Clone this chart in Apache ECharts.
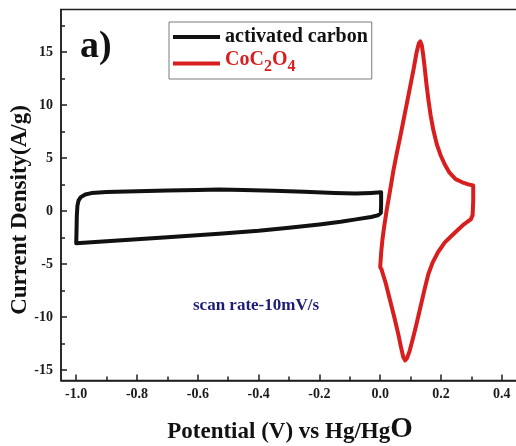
<!DOCTYPE html>
<html>
<head>
<meta charset="utf-8">
<script src="https://cdn.jsdelivr.net/npm/echarts@6/dist/echarts.min.js"></script>
<style>
  html, body { margin: 0; padding: 0; background: #ffffff; }
  #chart { width: 516px; height: 446px; }
</style>
</head>
<body>
<div id="chart"></div>
<script>
// Cyclic voltammograms at 10 mV/s: potential (V vs Hg/HgO) and current density (A/g)
const acPotential = [-1.000, -0.999, -0.998, -0.996, -0.992, -0.985, -0.970, -0.950, -0.900, -0.800,
  -0.700, -0.600, -0.530, -0.450, -0.350, -0.250, -0.150, -0.080, -0.030, 0.003,
  0.003, 0.002, -0.008, -0.030, -0.080, -0.130, -0.200, -0.300, -0.400, -0.530,
  -0.700, -0.850, -1.000];
const acCurrent = [-3.05, -2.00, -0.50, 0.50, 1.00, 1.30, 1.55, 1.68, 1.78, 1.86,
  1.92, 1.97, 2.02, 1.98, 1.90, 1.80, 1.68, 1.64, 1.70, 1.76,
  0.60, -0.20, -0.42, -0.58, -0.80, -1.02, -1.28, -1.60, -1.88, -2.15,
  -2.48, -2.77, -3.05];

const cocPotential = [0.000, 0.003, 0.007, 0.013, 0.022, 0.033, 0.044, 0.055, 0.066, 0.077,
  0.088, 0.099, 0.110, 0.120, 0.127, 0.132, 0.137, 0.141, 0.146, 0.152,
  0.159, 0.166, 0.175, 0.186, 0.198, 0.212, 0.228, 0.248, 0.270, 0.290,
  0.306, 0.306, 0.304, 0.298, 0.288, 0.272, 0.255, 0.235, 0.212, 0.190,
  0.172, 0.158, 0.145, 0.133, 0.120, 0.108, 0.097, 0.088, 0.082, 0.076,
  0.068, 0.060, 0.047, 0.033, 0.018, 0.004, 0.000];
const cocCurrent = [-5.3, -4.0, -2.8, -1.5, 0.2, 2.0, 3.9, 5.5, 7.0, 8.6,
  10.2, 11.8, 13.4, 15.0, 15.8, 16.0, 15.6, 14.8, 13.6, 12.0,
  10.4, 9.0, 7.6, 6.3, 5.3, 4.4, 3.6, 3.0, 2.7, 2.5,
  2.4, 1.0, -0.4, -0.8, -1.0, -1.35, -1.8, -2.35, -3.0, -3.9,
  -4.9, -6.0, -7.5, -9.0, -10.6, -12.0, -13.2, -13.9, -14.1, -13.8,
  -12.8, -11.7, -10.1, -8.5, -6.8, -5.5, -5.3];

const xMajorTicks = [-1.0, -0.8, -0.6, -0.4, -0.2, 0.0, 0.2, 0.4];
const xMinorTicks = [-0.9, -0.7, -0.5, -0.3, -0.1, 0.1, 0.3];
const yMajorTicks = [-15, -10, -5, 0, 5, 10, 15];
const yMinorTicks = [-12.5, -7.5, -2.5, 2.5, 7.5, 12.5, 17.5];

const seriesNames = ['activated carbon', 'CoC2O4'];
const seriesColors = ['#111111', '#d81e1e'];

const SERIF = '"Liberation Serif", "Times New Roman", serif';
const AXIS_COLOR = '#1e1e1e';

const pairs = (xs, ys) => xs.map((x, i) => [x, ys[i]]);

const tickLabelStyle = {
  fontFamily: SERIF, fontWeight: 'bold', fontSize: 14, color: '#1a1a1a'
};

function valueAxis(min, max, extra) {
  return Object.assign({
    type: 'value', min: min, max: max,
    splitLine: { show: false },
    axisLine: { show: false, onZero: false },
    axisTick: { show: false },
    axisLabel: { show: false }
  }, extra);
}

const chart = echarts.init(document.getElementById('chart'), null, { renderer: 'canvas' });

chart.setOption({
  animation: false,
  backgroundColor: '#ffffff',
  grid: {
    left: 61, top: 9.5, width: 456, height: 371,
    show: true, borderColor: AXIS_COLOR, borderWidth: 1.5,
    outerBoundsMode: 'none'
  },
  xAxis: [
    valueAxis(-1.05, 0.45, {
      position: 'bottom',
      axisLine: { show: true, onZero: false, lineStyle: { color: AXIS_COLOR, width: 1.5 } },
      axisTick: { show: true, inside: true, length: 6, customValues: xMajorTicks,
        lineStyle: { color: AXIS_COLOR, width: 1.5 } },
      axisLabel: Object.assign({ show: true, margin: 7, customValues: xMajorTicks,
        formatter: v => Number(v).toFixed(1) }, tickLabelStyle)
    }),
    valueAxis(-1.05, 0.45, {
      position: 'bottom',
      axisTick: { show: true, inside: true, length: 4, customValues: xMinorTicks,
        lineStyle: { color: AXIS_COLOR, width: 1.5 } }
    })
  ],
  yAxis: [
    valueAxis(-16, 19, {
      position: 'left',
      axisLine: { show: true, onZero: false, lineStyle: { color: AXIS_COLOR, width: 1.5 } },
      axisTick: { show: true, inside: true, length: 6, customValues: yMajorTicks,
        lineStyle: { color: AXIS_COLOR, width: 1.5 } },
      axisLabel: Object.assign({ show: true, margin: 8, customValues: yMajorTicks,
        formatter: v => String(v) }, tickLabelStyle)
    }),
    valueAxis(-16, 19, {
      position: 'left',
      axisTick: { show: true, inside: true, length: 4, customValues: yMinorTicks,
        lineStyle: { color: AXIS_COLOR, width: 1.5 } }
    })
  ],
  legend: {
    orient: 'vertical',
    left: 169, top: 22,
    padding: [5, 4, 2, 4],
    itemGap: 3,
    itemWidth: 47, itemHeight: 4,
    icon: 'rect',
    borderColor: '#7a7a7a', borderWidth: 1,
    backgroundColor: '#ffffff',
    selectedMode: false,
    data: [
      { name: seriesNames[0], textStyle: { color: seriesColors[0] } },
      { name: seriesNames[1], textStyle: { color: seriesColors[1] } }
    ],
    formatter: name => name === seriesNames[1]
      ? '{n|CoC}{s|2}{n|O}{s|4}'
      : '{t|' + name + '}',
    textStyle: {
      fontFamily: SERIF, fontWeight: 'bold', fontSize: 20, lineHeight: 20,
      rich: {
        t: { fontFamily: SERIF, fontWeight: 'bold', fontSize: 20, lineHeight: 20 },
        n: { fontFamily: SERIF, fontWeight: 'bold', fontSize: 20, lineHeight: 20,
             padding: [0, 0, 7, 0] },
        s: { fontFamily: SERIF, fontWeight: 'bold', fontSize: 16, lineHeight: 16,
             padding: [7, 0, 0, 0] }
      }
    }
  },
  series: [
    {
      name: seriesNames[0], type: 'line', xAxisIndex: 0, yAxisIndex: 0,
      data: pairs(acPotential, acCurrent),
      showSymbol: false, symbol: 'none', smooth: false,
      color: seriesColors[0],
      lineStyle: { color: seriesColors[0], width: 4, join: 'round', cap: 'round' },
      z: 3
    },
    {
      name: seriesNames[1], type: 'line', xAxisIndex: 0, yAxisIndex: 0,
      data: pairs(cocPotential, cocCurrent),
      showSymbol: false, symbol: 'none', smooth: false,
      color: seriesColors[1],
      lineStyle: { color: seriesColors[1], width: 4, join: 'round', cap: 'round' },
      z: 3
    }
  ],
  graphic: [
    {
      type: 'text', x: 80, y: 47,
      style: { text: 'a)', font: 'bold 38px ' + SERIF, fill: '#111111',
               align: 'left', verticalAlign: 'middle' }
    },
    {
      type: 'text', x: 20, y: 210, rotation: Math.PI / 2,
      style: { text: 'Current Density(A/g)', font: 'bold 23px ' + SERIF, fill: '#111111',
               align: 'center', verticalAlign: 'middle' }
    },
    {
      type: 'text', x: 290, y: 428,
      style: {
        text: '{a|Potential (V) vs Hg/Hg}{b|O}',
        align: 'center', verticalAlign: 'middle', fill: '#111111',
        rich: {
          a: { font: 'bold 23px ' + SERIF, fill: '#111111', verticalAlign: 'bottom', lineHeight: 26 },
          b: { font: 'bold 29px ' + SERIF, fill: '#111111', verticalAlign: 'bottom', lineHeight: 32 }
        }
      }
    },
    {
      type: 'text', x: 193, y: 306,
      style: { text: 'scan rate-10mV/s', font: 'bold 17px ' + SERIF, fill: '#1d1d78',
               align: 'left', verticalAlign: 'middle' }
    }
  ]
});
</script>
</body>
</html>
